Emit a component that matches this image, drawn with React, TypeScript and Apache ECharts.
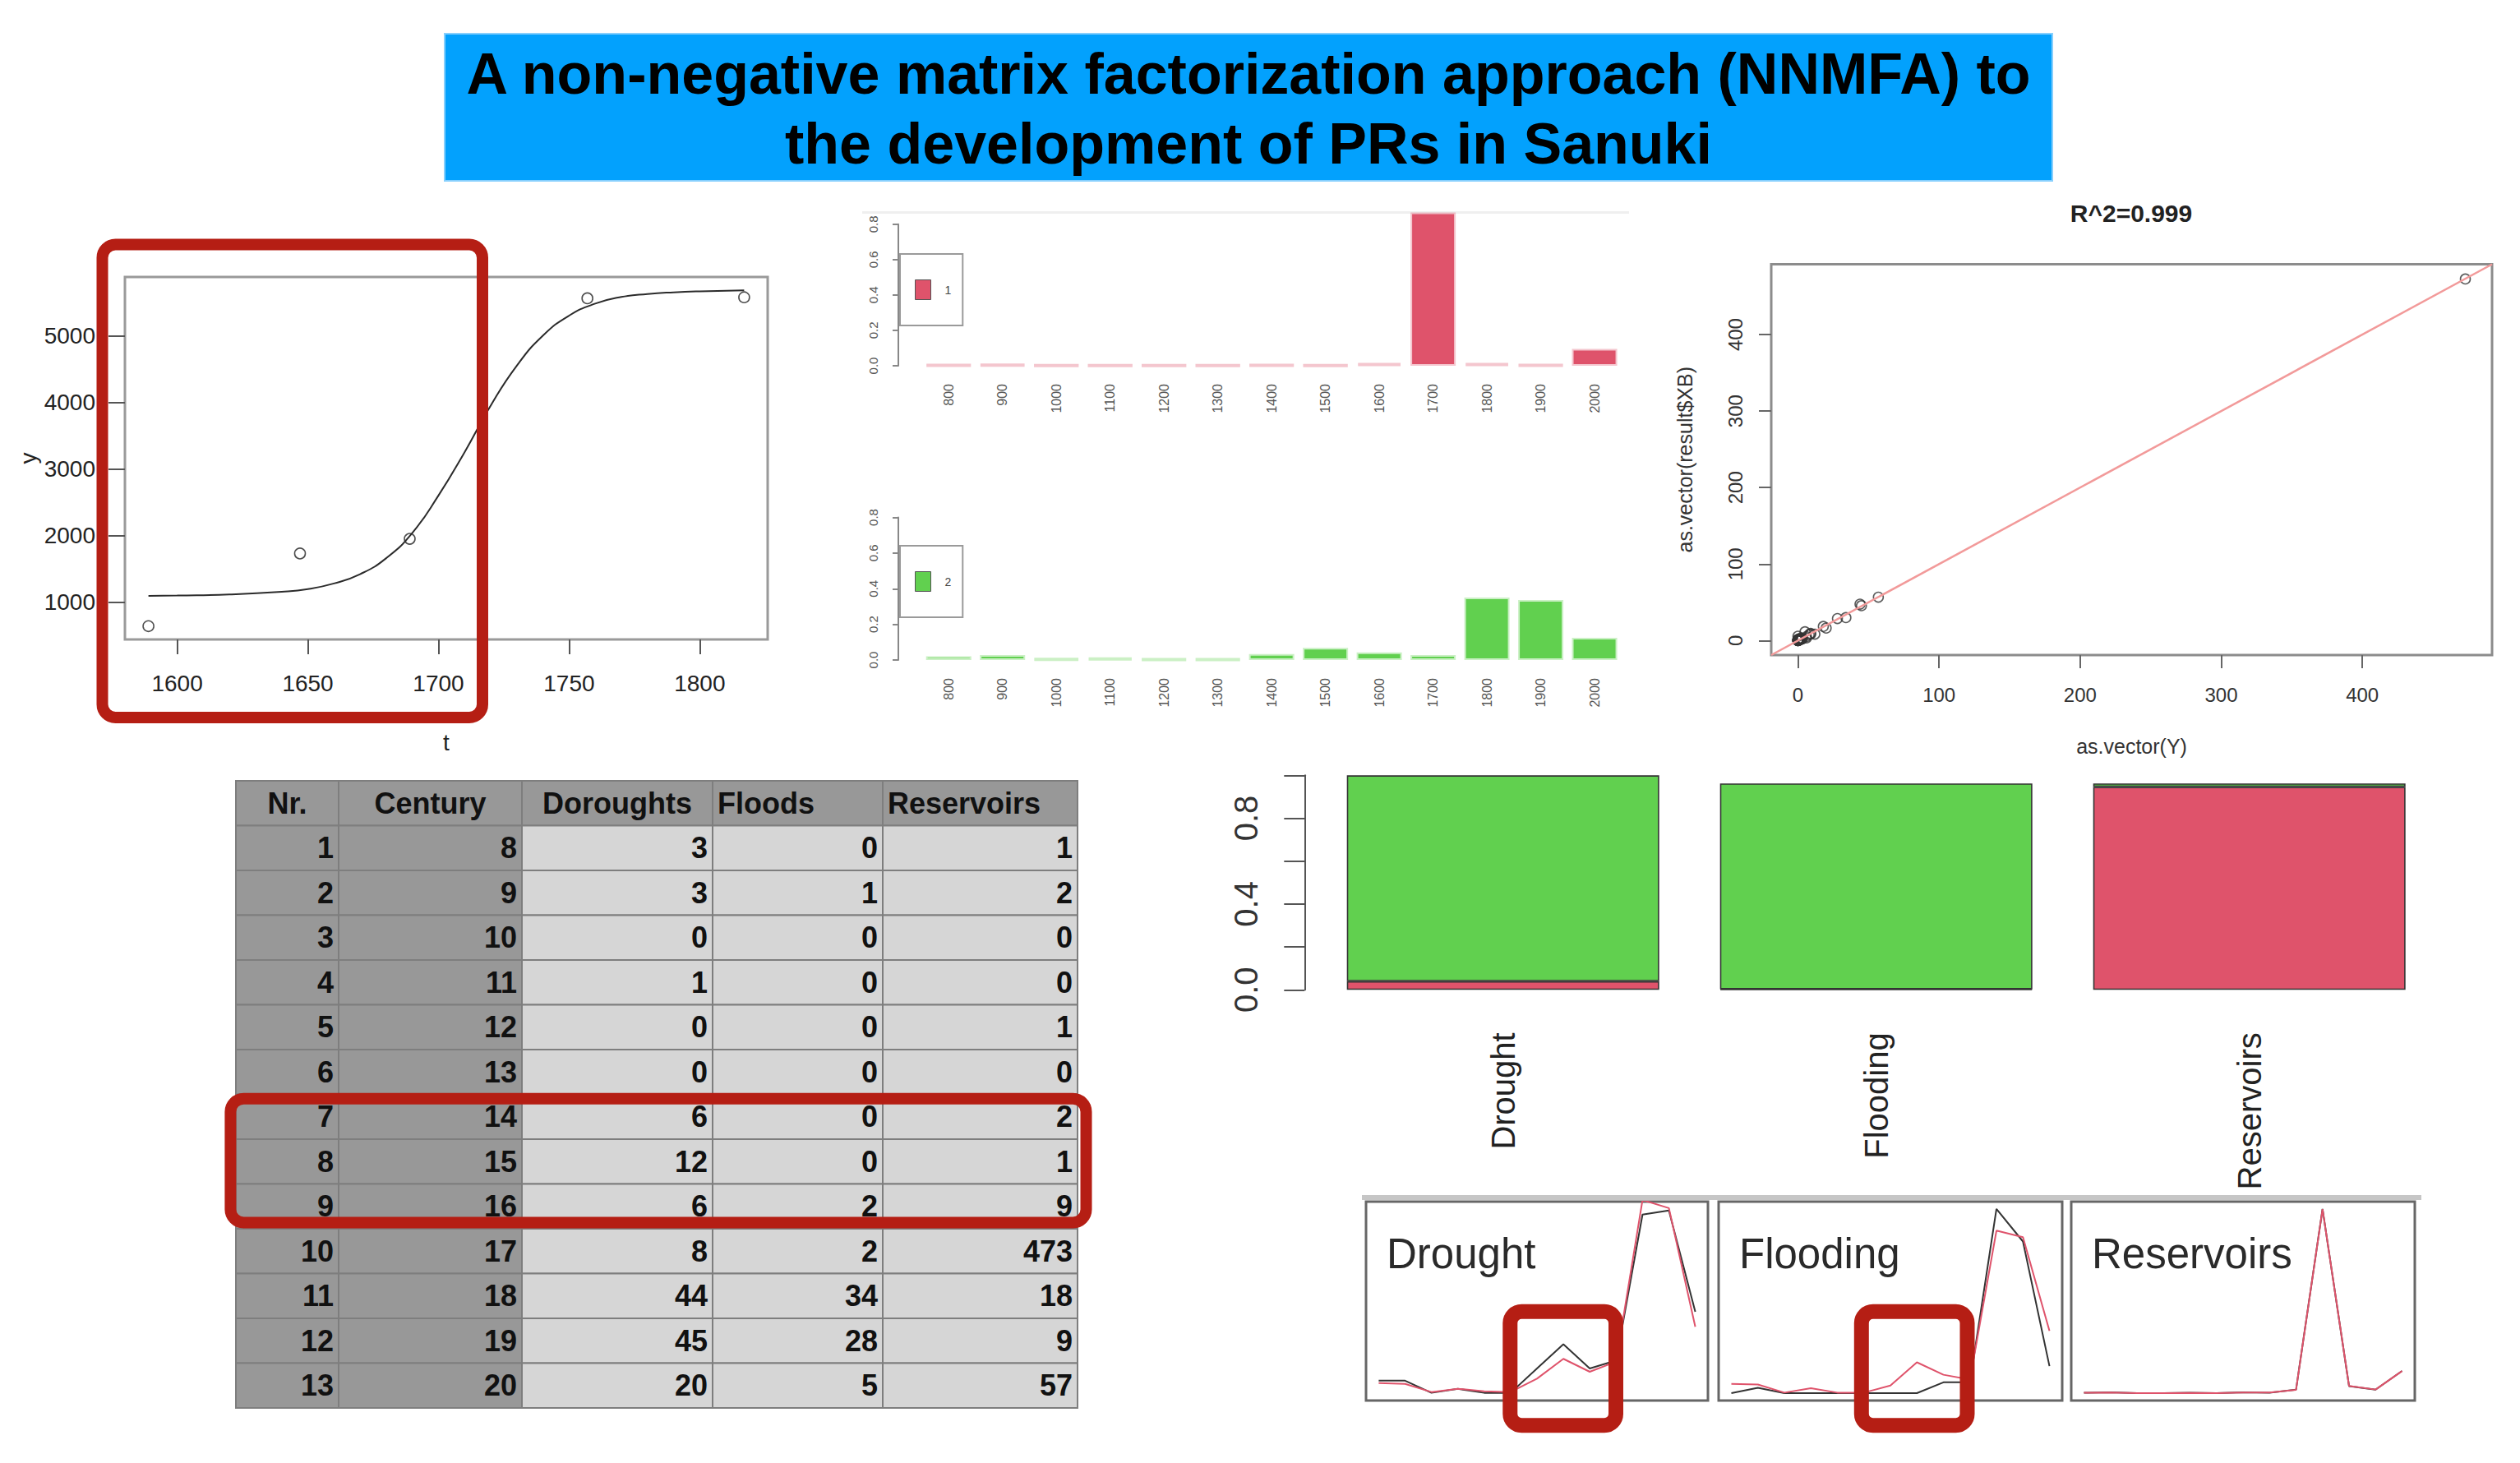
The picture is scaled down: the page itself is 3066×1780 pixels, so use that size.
import React, { useEffect, useRef } from "react";
import * as echarts from "echarts";

const FONT = '"Liberation Sans", Arial, Helvetica, sans-serif';
const RED = "#DF536B";
const GREEN = "#61D04F";
const HILITE = "#B51E14";

// ---------------- data ----------------
const TITLE_LINES = [
  "A non-negative matrix factorization approach (NNMFA) to",
  "the development of PRs in Sanuki",
];

// logistic growth panel
const LOGISTIC_T = [1589, 1647, 1689, 1757, 1817];
const LOGISTIC_Y = [640, 1730, 1950, 5560, 5575];
const CURVE_T = [1589, 1600, 1620, 1640, 1650, 1660, 1670, 1680, 1690, 1700, 1710, 1720, 1730, 1740, 1750, 1760, 1770, 1780, 1790, 1800, 1817];
const CURVE_Y = [1095, 1100, 1115, 1155, 1195, 1280, 1420, 1660, 2040, 2600, 3250, 3950, 4550, 5000, 5300, 5480, 5580, 5625, 5650, 5665, 5680];
const LOGISTIC_X_TICKS = [1600, 1650, 1700, 1750, 1800];
const LOGISTIC_Y_TICKS = [1000, 2000, 3000, 4000, 5000];

// factor bar charts
const BAR_CENTURIES = ["800", "900", "1000", "1100", "1200", "1300", "1400", "1500", "1600", "1700", "1800", "1900", "2000"];
const FACTOR1 = [0.004, 0.006, 0.003, 0.003, 0.003, 0.003, 0.004, 0.003, 0.015, 0.866, 0.015, 0.004, 0.095];
const FACTOR2 = [0.021, 0.028, 0.006, 0.012, 0.004, 0.004, 0.034, 0.068, 0.043, 0.028, 0.35, 0.337, 0.125];

// table
const TABLE_HEADER = ["Nr.", "Century", "Doroughts", "Floods", "Reservoirs"];
const NR = [1, 2, 3, 4, 5, 6, 7, 8, 9, 10, 11, 12, 13];
const CENTURY = [8, 9, 10, 11, 12, 13, 14, 15, 16, 17, 18, 19, 20];
const DROUGHTS = [3, 3, 0, 1, 0, 0, 6, 12, 6, 8, 44, 45, 20];
const FLOODS = [0, 1, 0, 0, 0, 0, 0, 0, 2, 2, 34, 28, 5];
const RESERVOIRS = [1, 2, 0, 0, 1, 0, 2, 1, 9, 473, 18, 9, 57];

// fitted values (result$XB)
const FIT_DROUGHT = [2.4, 2.2, 0.2, 1.0, 0.4, 0.2, 3.5, 8.4, 5.2, 7.7, 47.6, 45.6, 16.3];
const FIT_FLOOD = [1.7, 1.6, 0.1, 0.9, 0.1, 0.1, 1.4, 5.7, 3.4, 2.5, 30.0, 28.8, 11.5];
const FIT_RESERVOIR = [1.2, 1.8, 0.1, 0.3, 0.6, 0.2, 1.6, 1.5, 8.6, 472.6, 18.5, 9.3, 56.8];

// scatter
const SCATTER_TICKS = [0, 100, 200, 300, 400];
const SCATTER_LIMITS = [-18.92, 491.92];
const R2_LABEL = "R^2=0.999";

// loadings
const COMPONENTS = ["Drought", "Flooding", "Reservoirs"];
const LOADING1 = [0.04, 0.003, 0.946];
const LOADING2 = [0.96, 0.959, 0.016];
const LOADING_LABELS = [0, 0.4, 0.8];

// small panels
const PANEL_LIMITS = [[-1.9, 47.2], [-1.36, 35.36], [-18.92, 491.92]];
const PANEL_X_LIMITS = [7.52, 20.48];

// ---------------- layout ----------------
const W = 3066;
const H = 1780;
const LOG_GRID = { left: 152, top: 337, width: 782, height: 441 };
const BAR1_GRID = { left: 1121.5, top: 272.8, width: 851.3, height: 172.2 };
const BAR2_GRID = { left: 1121.5, top: 629.5, width: 851.3, height: 173.5 };
const SCAT_GRID = { left: 2155, top: 321.5, width: 877, height: 475.5 };
const LOAD_GRID = { left: 1601.7, top: 943.3, width: 1362, height: 261 };
const PANEL_GRIDS = [
  { left: 1662, top: 1462, width: 416, height: 242 },
  { left: 2091, top: 1462, width: 418, height: 242 },
  { left: 2520, top: 1462, width: 418, height: 242 },
];
const TABLE_X = [287, 412, 635, 867, 1074, 1311];
const TABLE_TOP = 950;
const ROW_H = 54.5;

function txt(x: number, y: number, text: string, size: number, opts: any = {}) {
  const align = opts.align || "center";
  return {
    type: "text",
    x,
    y,
    z: opts.z || 10,
    silent: true,
    style: {
      text,
      fontSize: size,
      fontWeight: opts.weight || "normal",
      fontFamily: FONT,
      fill: opts.fill || "#111",
      textAlign: align,
      align,
      textVerticalAlign: "middle",
      verticalAlign: "middle",
    },
  };
}

function hilite(x: number, y: number, w: number, h: number, lw: number, r: number) {
  return {
    type: "rect",
    z: 100,
    silent: true,
    shape: { x, y, width: w, height: h, r },
    style: { fill: "none", stroke: HILITE, lineWidth: lw },
  };
}

function tableGraphics() {
  const cols = [NR, CENTURY, DROUGHTS, FLOODS, RESERVOIRS];
  const els: any[] = [];
  for (let r = 0; r <= NR.length; r++) {
    for (let c = 0; c < TABLE_HEADER.length; c++) {
      const x = TABLE_X[c];
      const w = TABLE_X[c + 1] - x;
      const y = TABLE_TOP + r * ROW_H;
      els.push({
        type: "rect",
        silent: true,
        z: 5,
        shape: { x, y, width: w, height: ROW_H },
        style: { fill: r === 0 || c < 2 ? "#989898" : "#d6d6d6", stroke: "#7e7e7e", lineWidth: 2 },
      });
      const text = r === 0 ? TABLE_HEADER[c] : String(cols[c][r - 1]);
      let tx: number;
      let align: string;
      if (r === 0) {
        if (c < 3) {
          tx = x + w / 2;
          align = "center";
        } else {
          tx = x + 6;
          align = "left";
        }
      } else {
        tx = x + w - 6;
        align = "right";
      }
      els.push(txt(tx, y + ROW_H / 2, text, 36, { align, weight: "bold", fill: "#111", z: 6 }));
    }
  }
  return els;
}

function buildOption() {
  const fmt1 = (v: number) => v.toFixed(1);
  const plain = (v: number) => String(v);
  const panelActual = [DROUGHTS, FLOODS, RESERVOIRS];
  const panelFit = [FIT_DROUGHT, FIT_FLOOD, FIT_RESERVOIR];
  const scatterData: number[][] = [];
  panelActual.forEach((arr, k) => arr.forEach((v, i) => scatterData.push([v, panelFit[k][i]])));

  const factorXAxis = (gi: number) => ({
    gridIndex: gi,
    type: "category",
    data: BAR_CENTURIES,
    axisLine: { show: false },
    axisTick: { show: false },
    axisLabel: { rotate: 90, interval: 0, fontSize: 16, color: "#555", margin: 22, fontFamily: FONT },
  });
  const factorYAxis = (gi: number) => ({
    gridIndex: gi,
    type: "value",
    min: 0,
    max: 0.8,
    interval: 0.2,
    offset: 28.5,
    splitLine: { show: false },
    axisLine: { show: true, lineStyle: { color: "#888", width: 2 } },
    axisTick: { show: true, length: 7, lineStyle: { color: "#888", width: 2 } },
    axisLabel: { rotate: 90, fontSize: 15, color: "#555", margin: 23, formatter: fmt1, fontFamily: FONT },
  });

  const panelSeries: any[] = [];
  COMPONENTS.forEach((name, k) => {
    panelSeries.push({
      name: name + " observed",
      type: "line",
      xAxisIndex: 5 + k,
      yAxisIndex: 5 + k,
      data: CENTURY.map((c, i) => [c, panelActual[k][i]]),
      symbol: "none",
      lineStyle: { color: "#333", width: 2 },
      z: 3,
    });
    panelSeries.push({
      name: name + " fitted",
      type: "line",
      xAxisIndex: 5 + k,
      yAxisIndex: 5 + k,
      data: CENTURY.map((c, i) => [c, panelFit[k][i]]),
      symbol: "none",
      lineStyle: { color: RED, width: 2 },
      z: 4,
    });
  });

  const graphics: any[] = [
    // title banner
    {
      type: "rect",
      silent: true,
      z: 1,
      shape: { x: 541, y: 41, width: 1956, height: 179 },
      style: { fill: "#03A1FD", stroke: "#86CFFD", lineWidth: 2 },
    },
    txt(1519, 90, TITLE_LINES[0], 70, { weight: "bold", fill: "#000" }),
    txt(1519, 175, TITLE_LINES[1], 70, { weight: "bold", fill: "#000" }),
    // faint top edge above factor chart
    {
      type: "line",
      silent: true,
      z: 1,
      shape: { x1: 1049, y1: 258.5, x2: 1982, y2: 258.5 },
      style: { stroke: "#efefef", lineWidth: 3 },
    },
    txt(2593, 259, R2_LABEL, 30, { weight: "bold", fill: "#222" }),
    ...tableGraphics(),
    // separator above the small panels
    {
      type: "line",
      silent: true,
      z: 1,
      shape: { x1: 1657, y1: 1457, x2: 2946, y2: 1457 },
      style: { stroke: "#c6c6c6", lineWidth: 6 },
    },
    ...COMPONENTS.map((name, k) => txt(PANEL_GRIDS[k].left + 25, 1525, name, 51, { align: "left", fill: "#2a2a2a" })),
    // highlight frames
    hilite(124.5, 297.5, 462.5, 575.5, 14, 16),
    hilite(280.4, 1336.7, 1041.1, 150.7, 14, 16),
    hilite(1837.3, 1595.7, 128.7, 138.6, 18, 14),
    hilite(2264.8, 1595.7, 128.7, 138.6, 18, 14),
  ];

  return {
    animation: false,
    backgroundColor: "#ffffff",
    textStyle: { fontFamily: FONT },
    grid: [
      { ...LOG_GRID, show: true, borderColor: "#9a9a9a", borderWidth: 3 },
      { ...BAR1_GRID },
      { ...BAR2_GRID },
      { ...SCAT_GRID, show: true, borderColor: "#8c8c8c", borderWidth: 3 },
      { ...LOAD_GRID },
      ...PANEL_GRIDS.map((g) => ({ ...g, show: true, borderColor: "#666", borderWidth: 3 })),
    ],
    legend: [
      {
        data: [{ name: "1", icon: "rect", itemStyle: { color: RED, borderColor: "#555", borderWidth: 1 } }],
        left: 1095,
        top: 309,
        orient: "vertical",
        itemWidth: 19,
        itemHeight: 24,
        padding: [31, 14, 31, 18],
        borderColor: "#9a9a9a",
        borderWidth: 2,
        selectedMode: false,
        textStyle: { fontSize: 14, color: "#444", fontFamily: FONT, padding: [0, 0, 0, 12] },
      },
      {
        data: [{ name: "2", icon: "rect", itemStyle: { color: GREEN, borderColor: "#555", borderWidth: 1 } }],
        left: 1095,
        top: 664,
        orient: "vertical",
        itemWidth: 19,
        itemHeight: 24,
        padding: [31, 14, 31, 18],
        borderColor: "#9a9a9a",
        borderWidth: 2,
        selectedMode: false,
        textStyle: { fontSize: 14, color: "#444", fontFamily: FONT, padding: [0, 0, 0, 12] },
      },
    ],
    xAxis: [
      {
        gridIndex: 0,
        type: "value",
        min: 1580,
        max: 1826,
        splitLine: { show: false },
        axisLine: { show: false, onZero: false },
        axisTick: { show: true, customValues: LOGISTIC_X_TICKS, length: 18, lineStyle: { color: "#555", width: 2 } },
        axisLabel: { customValues: LOGISTIC_X_TICKS, formatter: plain, fontSize: 28, color: "#222", margin: 39, fontFamily: FONT },
        name: "t",
        nameLocation: "middle",
        nameGap: 111,
        nameTextStyle: { fontSize: 28, color: "#222", fontFamily: FONT },
      },
      factorXAxis(1),
      factorXAxis(2),
      {
        gridIndex: 3,
        type: "value",
        min: SCATTER_LIMITS[0],
        max: SCATTER_LIMITS[1],
        splitLine: { show: false },
        axisLine: { show: false, onZero: false },
        axisTick: { show: true, customValues: SCATTER_TICKS, length: 16, lineStyle: { color: "#666", width: 2 } },
        axisLabel: { customValues: SCATTER_TICKS, formatter: plain, fontSize: 24, color: "#333", margin: 36, fontFamily: FONT },
        name: "as.vector(Y)",
        nameLocation: "middle",
        nameGap: 98,
        nameTextStyle: { fontSize: 25, color: "#333", fontFamily: FONT },
      },
      {
        gridIndex: 4,
        type: "category",
        data: COMPONENTS,
        axisLine: { show: false },
        axisTick: { show: false },
        axisLabel: { rotate: 90, interval: 0, fontSize: 40, color: "#222", margin: 52, fontFamily: FONT },
      },
      ...PANEL_GRIDS.map((_, k) => ({
        gridIndex: 5 + k,
        type: "value",
        min: PANEL_X_LIMITS[0],
        max: PANEL_X_LIMITS[1],
        show: false,
        axisLine: { onZero: false },
      })),
    ],
    yAxis: [
      {
        gridIndex: 0,
        type: "value",
        min: 440,
        max: 5880,
        splitLine: { show: false },
        axisLine: { show: false, onZero: false },
        axisTick: { show: true, customValues: LOGISTIC_Y_TICKS, length: 20, lineStyle: { color: "#555", width: 2 } },
        axisLabel: { customValues: LOGISTIC_Y_TICKS, formatter: plain, fontSize: 28, color: "#222", margin: 36, fontFamily: FONT },
        name: "y",
        nameLocation: "middle",
        nameGap: 104,
        nameRotate: 90,
        nameTextStyle: { fontSize: 28, color: "#222", fontFamily: FONT },
      },
      factorYAxis(1),
      factorYAxis(2),
      {
        gridIndex: 3,
        type: "value",
        min: SCATTER_LIMITS[0],
        max: SCATTER_LIMITS[1],
        splitLine: { show: false },
        axisLine: { show: false, onZero: false },
        axisTick: { show: true, customValues: SCATTER_TICKS, length: 15, lineStyle: { color: "#666", width: 2 } },
        axisLabel: { customValues: SCATTER_TICKS, formatter: plain, rotate: 90, fontSize: 24, color: "#333", margin: 32, fontFamily: FONT },
        name: "as.vector(result$XB)",
        nameLocation: "middle",
        nameGap: 93,
        nameRotate: 90,
        nameTextStyle: { fontSize: 25, color: "#333", fontFamily: FONT },
      },
      {
        gridIndex: 4,
        type: "value",
        min: 0,
        max: 1,
        interval: 0.2,
        offset: 14.4,
        splitLine: { show: false },
        axisLine: { show: true, lineStyle: { color: "#555", width: 2 } },
        axisTick: { show: true, length: 25, lineStyle: { color: "#555", width: 2 } },
        axisLabel: { customValues: LOADING_LABELS, rotate: 90, fontSize: 40, color: "#333", margin: 51, formatter: fmt1, fontFamily: FONT },
      },
      ...PANEL_GRIDS.map((_, k) => ({
        gridIndex: 5 + k,
        type: "value",
        min: PANEL_LIMITS[k][0],
        max: PANEL_LIMITS[k][1],
        show: false,
        axisLine: { onZero: false },
      })),
    ],
    series: [
      {
        name: "logistic fit",
        type: "line",
        xAxisIndex: 0,
        yAxisIndex: 0,
        data: CURVE_T.map((t, i) => [t, CURVE_Y[i]]),
        smooth: true,
        symbol: "none",
        lineStyle: { color: "#2b2b2b", width: 2 },
      },
      {
        name: "observed",
        type: "scatter",
        xAxisIndex: 0,
        yAxisIndex: 0,
        data: LOGISTIC_T.map((t, i) => [t, LOGISTIC_Y[i]]),
        symbol: "circle",
        symbolSize: 13,
        itemStyle: { color: "rgba(255,255,255,0)", borderColor: "#222", borderWidth: 1.6 },
      },
      {
        name: "1",
        type: "bar",
        xAxisIndex: 1,
        yAxisIndex: 1,
        data: FACTOR1,
        barCategoryGap: "16%",
        clip: false,
        itemStyle: { color: RED, borderColor: "rgba(223,83,107,0.33)", borderWidth: 4 },
      },
      {
        name: "2",
        type: "bar",
        xAxisIndex: 2,
        yAxisIndex: 2,
        data: FACTOR2,
        barCategoryGap: "16%",
        clip: false,
        itemStyle: { color: GREEN, borderColor: "rgba(97,208,79,0.33)", borderWidth: 4 },
      },
      {
        name: "identity",
        type: "line",
        xAxisIndex: 3,
        yAxisIndex: 3,
        data: [
          [SCATTER_LIMITS[0], SCATTER_LIMITS[0]],
          [SCATTER_LIMITS[1], SCATTER_LIMITS[1]],
        ],
        symbol: "none",
        lineStyle: { color: "#F29A9A", width: 2.5 },
      },
      {
        name: "fitted vs observed",
        type: "scatter",
        xAxisIndex: 3,
        yAxisIndex: 3,
        data: scatterData,
        symbol: "circle",
        symbolSize: 12,
        itemStyle: { color: "rgba(255,255,255,0)", borderColor: "#333", borderWidth: 1.6 },
      },
      {
        name: "basis 1",
        type: "bar",
        stack: "loading",
        xAxisIndex: 4,
        yAxisIndex: 4,
        data: LOADING1,
        barCategoryGap: "16.3%",
        itemStyle: { color: RED, borderColor: "#333", borderWidth: 1.6 },
      },
      {
        name: "basis 2",
        type: "bar",
        stack: "loading",
        xAxisIndex: 4,
        yAxisIndex: 4,
        data: LOADING2,
        barCategoryGap: "16.3%",
        itemStyle: { color: GREEN, borderColor: "#333", borderWidth: 1.6 },
      },
      ...panelSeries,
    ],
    graphic: { elements: graphics },
  };
}

export default function App() {
  const ref = useRef<HTMLDivElement>(null);
  useEffect(() => {
    if (!ref.current) return;
    const chart = echarts.init(ref.current, null, { renderer: "svg" });
    chart.setOption(buildOption() as any);
    return () => chart.dispose();
  }, []);
  return (
    <div
      ref={ref}
      style={{ position: "absolute", left: 0, top: 0, width: W, height: H, background: "#fff" }}
    />
  );
}
